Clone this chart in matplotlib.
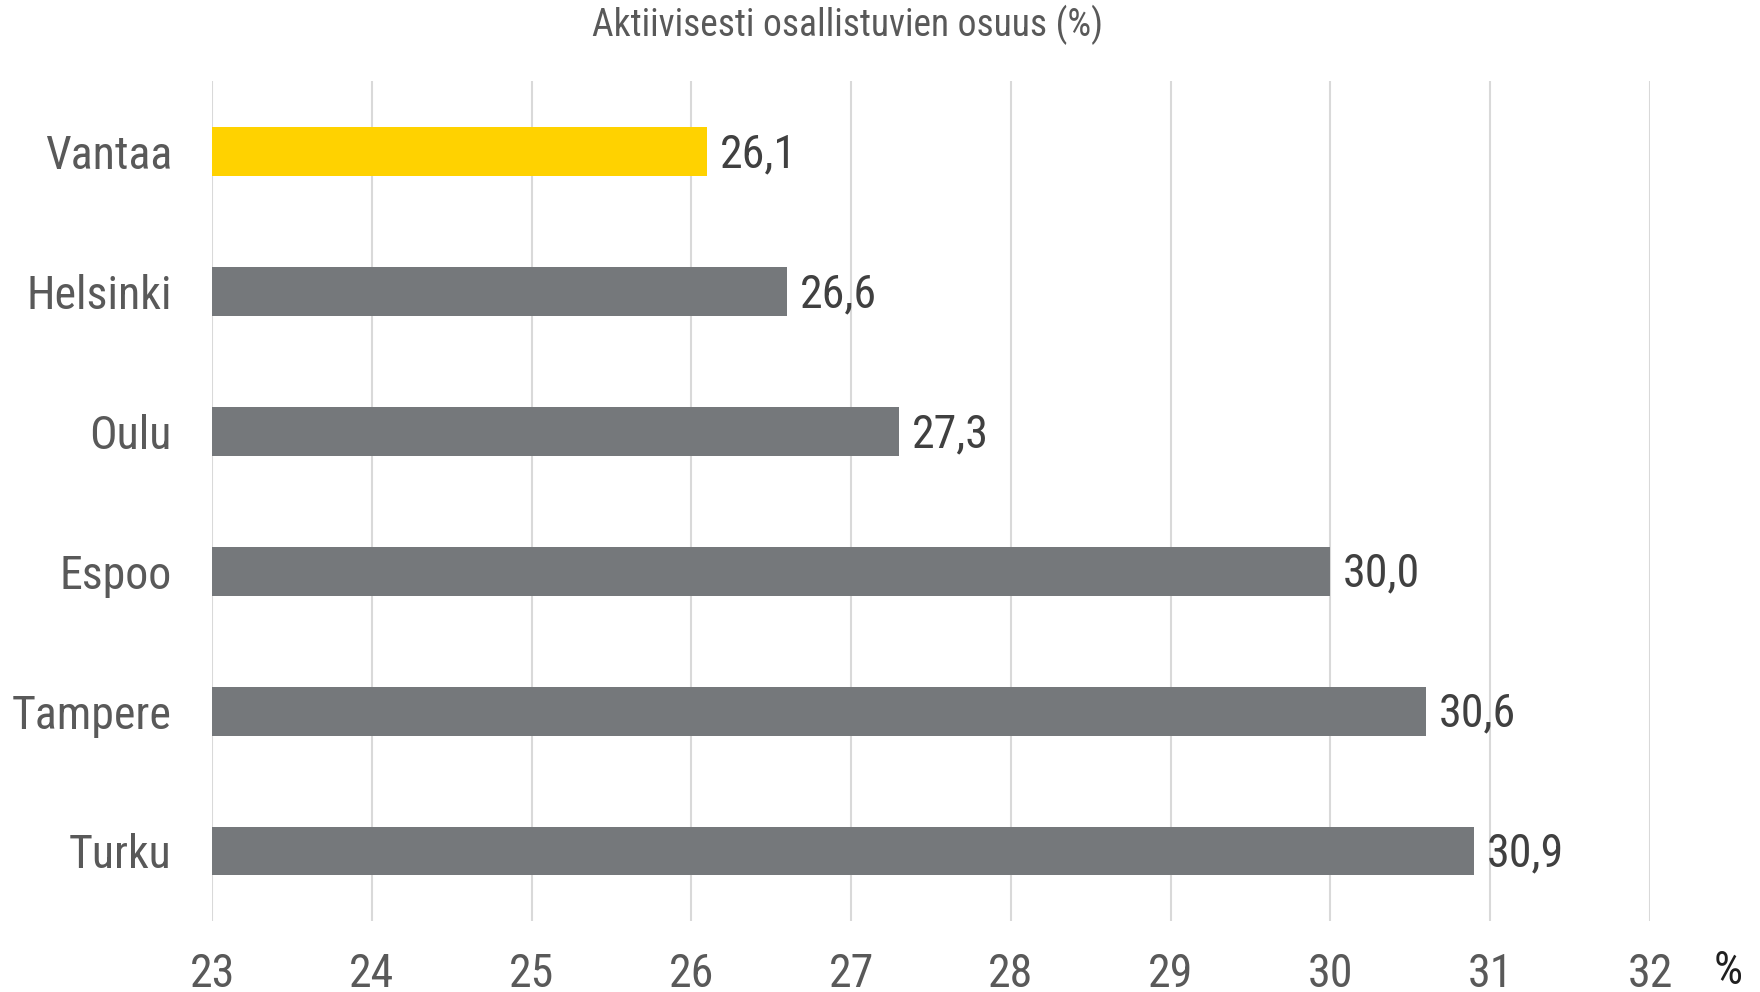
import matplotlib
matplotlib.use("Agg")
import matplotlib.pyplot as plt
from matplotlib import font_manager

# DATA
cities = ["Vantaa", "Helsinki", "Oulu", "Espoo", "Tampere", "Turku"]
values = [26.1, 26.6, 27.3, 30.0, 30.6, 30.9]
xticks = [23, 24, 25, 26, 27, 28, 29, 30, 31, 32]
title = "Aktiivisesti osallistuvien osuus (%)"

# pick a narrow face if one is installed
names = {f.name for f in font_manager.fontManager.ttflist}
narrow = [n for n in ["Liberation Sans Narrow", "DejaVu Sans Condensed", "Roboto Condensed"] if n in names]
plt.rcParams['font.family'] = narrow + ['DejaVu Sans']
plt.rcParams['font.stretch'] = 'condensed'

text_col = "#595959"
bar_cols = ["#FFD200"] + ["#75787B"] * 5
fs = 33 if narrow else 26

fig = plt.figure(figsize=(17.6, 9.92), dpi=100)
ax = fig.add_axes([0.1205, 0.0716, 0.817, 0.8465])

y = list(range(len(cities)))
ax.barh(y, [v - 23 for v in values], left=23, height=0.35, color=bar_cols, zorder=3)

for yi, v in zip(y, values):
    ax.text(v + 0.08, yi + 0.02, f"{v:.1f}".replace(".", ","), va="center", ha="left",
            fontsize=fs, color="#404040")

ax.set_xlim(23, 32)
ax.set_ylim(5.5, -0.5)
ax.set_xticks(xticks)
ax.set_xticklabels([str(t) for t in xticks], fontsize=fs, color=text_col)
ax.set_yticks(y)
ax.set_yticklabels(cities, fontsize=fs, color=text_col)
ax.tick_params(axis="both", length=0)
ax.tick_params(axis="x", pad=22)
ax.tick_params(axis="y", pad=29)
ax.grid(axis="x", color="#D9D9D9", linewidth=1.5, zorder=0)
for s in ax.spines.values():
    s.set_visible(False)

fig.text(0.4815, 0.975, title, ha="center", va="center", fontsize=27, color=text_col)
fig.text(0.982, 0.021, "%", ha="center", va="center", fontsize=fs, color="#202020")

fig.savefig("out.png", dpi=100)
